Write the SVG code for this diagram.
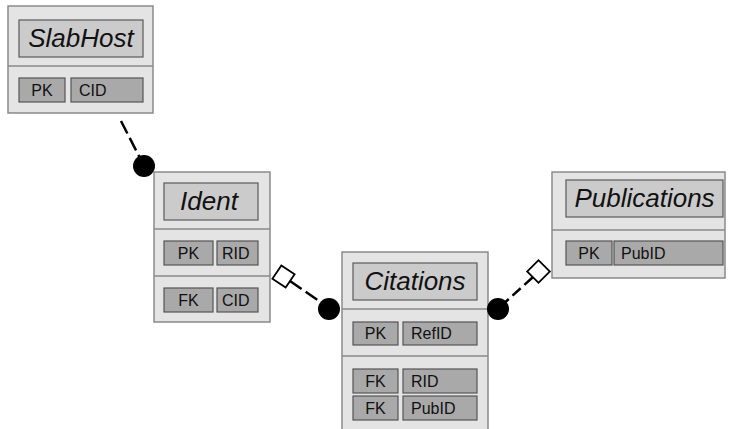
<svg xmlns="http://www.w3.org/2000/svg" width="729" height="429" viewBox="0 0 729 429">
<style>
.box{fill:#e4e4e4;stroke:#8a8a8a;stroke-width:1.5}
.div{stroke:#8a8a8a;stroke-width:1.5}
.title{fill:#cbcbcb;stroke:#5a5a5a;stroke-width:1.2}
.fld{fill:#a9a9a9;stroke:#555;stroke-width:1.2}
.tt{font-family:"Liberation Sans",Arial,sans-serif;font-size:26px;font-style:italic;fill:#111;text-anchor:middle}
.k{font-family:"Liberation Sans",Arial,sans-serif;font-size:16px;fill:#111;text-anchor:middle}
.v{font-family:"Liberation Sans",Arial,sans-serif;font-size:16px;fill:#111}
.ln{stroke:#000;stroke-width:2.5;fill:none;stroke-dasharray:14 5}
.dot{fill:#000}
.dia{fill:#fff;stroke:#000;stroke-width:1.8}
</style>
<rect width="729" height="429" fill="#fff"/>
<g id="SlabHost">
<rect class="box" x="8" y="6" width="145" height="107"/>
<rect class="title" x="19" y="20" width="124" height="37"/>
<text class="tt" x="81" y="47">SlabHost</text>
<line class="div" x1="8" y1="66" x2="153" y2="66"/>
<rect class="fld" x="19" y="78" width="46" height="24"/>
<text class="k" x="42" y="96">PK</text>
<rect class="fld" x="71" y="78" width="72" height="24"/>
<text class="v" x="79" y="96">CID</text>
</g>
<g id="Ident">
<rect class="box" x="154" y="172" width="116" height="150"/>
<rect class="title" x="164" y="183" width="94" height="37"/>
<text class="tt" x="209" y="210">Ident</text>
<line class="div" x1="154" y1="229" x2="270" y2="229"/>
<rect class="fld" x="164" y="241" width="49" height="24"/>
<text class="k" x="188.5" y="259">PK</text>
<rect class="fld" x="217" y="241" width="41" height="24"/>
<text class="v" x="222" y="259">RID</text>
<line class="div" x1="154" y1="276" x2="270" y2="276"/>
<rect class="fld" x="164" y="288" width="49" height="24"/>
<text class="k" x="188.5" y="306">FK</text>
<rect class="fld" x="217" y="288" width="41" height="24"/>
<text class="v" x="222" y="306">CID</text>
</g>
<g id="Citations">
<rect class="box" x="342" y="252" width="146" height="185"/>
<rect class="title" x="353" y="263" width="124" height="37"/>
<text class="tt" x="415" y="290">Citations</text>
<line class="div" x1="342" y1="309" x2="488" y2="309"/>
<rect class="fld" x="353" y="322" width="45" height="23"/>
<text class="k" x="375.5" y="339">PK</text>
<rect class="fld" x="403" y="322" width="74" height="23"/>
<text class="v" x="411" y="339">RefID</text>
<line class="div" x1="342" y1="356" x2="488" y2="356"/>
<rect class="fld" x="353" y="369" width="45" height="24"/>
<text class="k" x="375.5" y="387">FK</text>
<rect class="fld" x="403" y="369" width="74" height="24"/>
<text class="v" x="411" y="387">RID</text>
<rect class="fld" x="353" y="396" width="45" height="24"/>
<text class="k" x="375.5" y="414">FK</text>
<rect class="fld" x="403" y="396" width="74" height="24"/>
<text class="v" x="411" y="414">PubID</text>
</g>
<g id="Publications">
<rect class="box" x="552" y="172" width="173" height="106"/>
<rect class="title" x="566" y="180" width="157" height="37"/>
<text class="tt" x="644.5" y="207">Publications</text>
<line class="div" x1="552" y1="230" x2="725" y2="230"/>
<rect class="fld" x="566" y="241" width="46" height="24"/>
<text class="k" x="589" y="259">PK</text>
<rect class="fld" x="614" y="241" width="109" height="24"/>
<text class="v" x="621" y="259">PubID</text>
</g>
<g id="connectors">
<line class="ln" x1="121" y1="121" x2="141" y2="160"/>
<circle class="dot" cx="144" cy="166" r="11"/>
<line class="ln" x1="290" y1="281" x2="325" y2="305"/>
<rect class="dia" x="-8" y="-8" width="16" height="16" transform="translate(283.5,276.5) rotate(34)"/>
<circle class="dot" cx="329" cy="309" r="11"/>
<line class="ln" style="stroke-dasharray:11 5" x1="532.5" y1="277.5" x2="501" y2="306"/>
<rect class="dia" x="-8" y="-8" width="16" height="16" transform="translate(538.5,271.5) rotate(45)"/>
<circle class="dot" cx="498" cy="309" r="11"/>
</g>
</svg>
